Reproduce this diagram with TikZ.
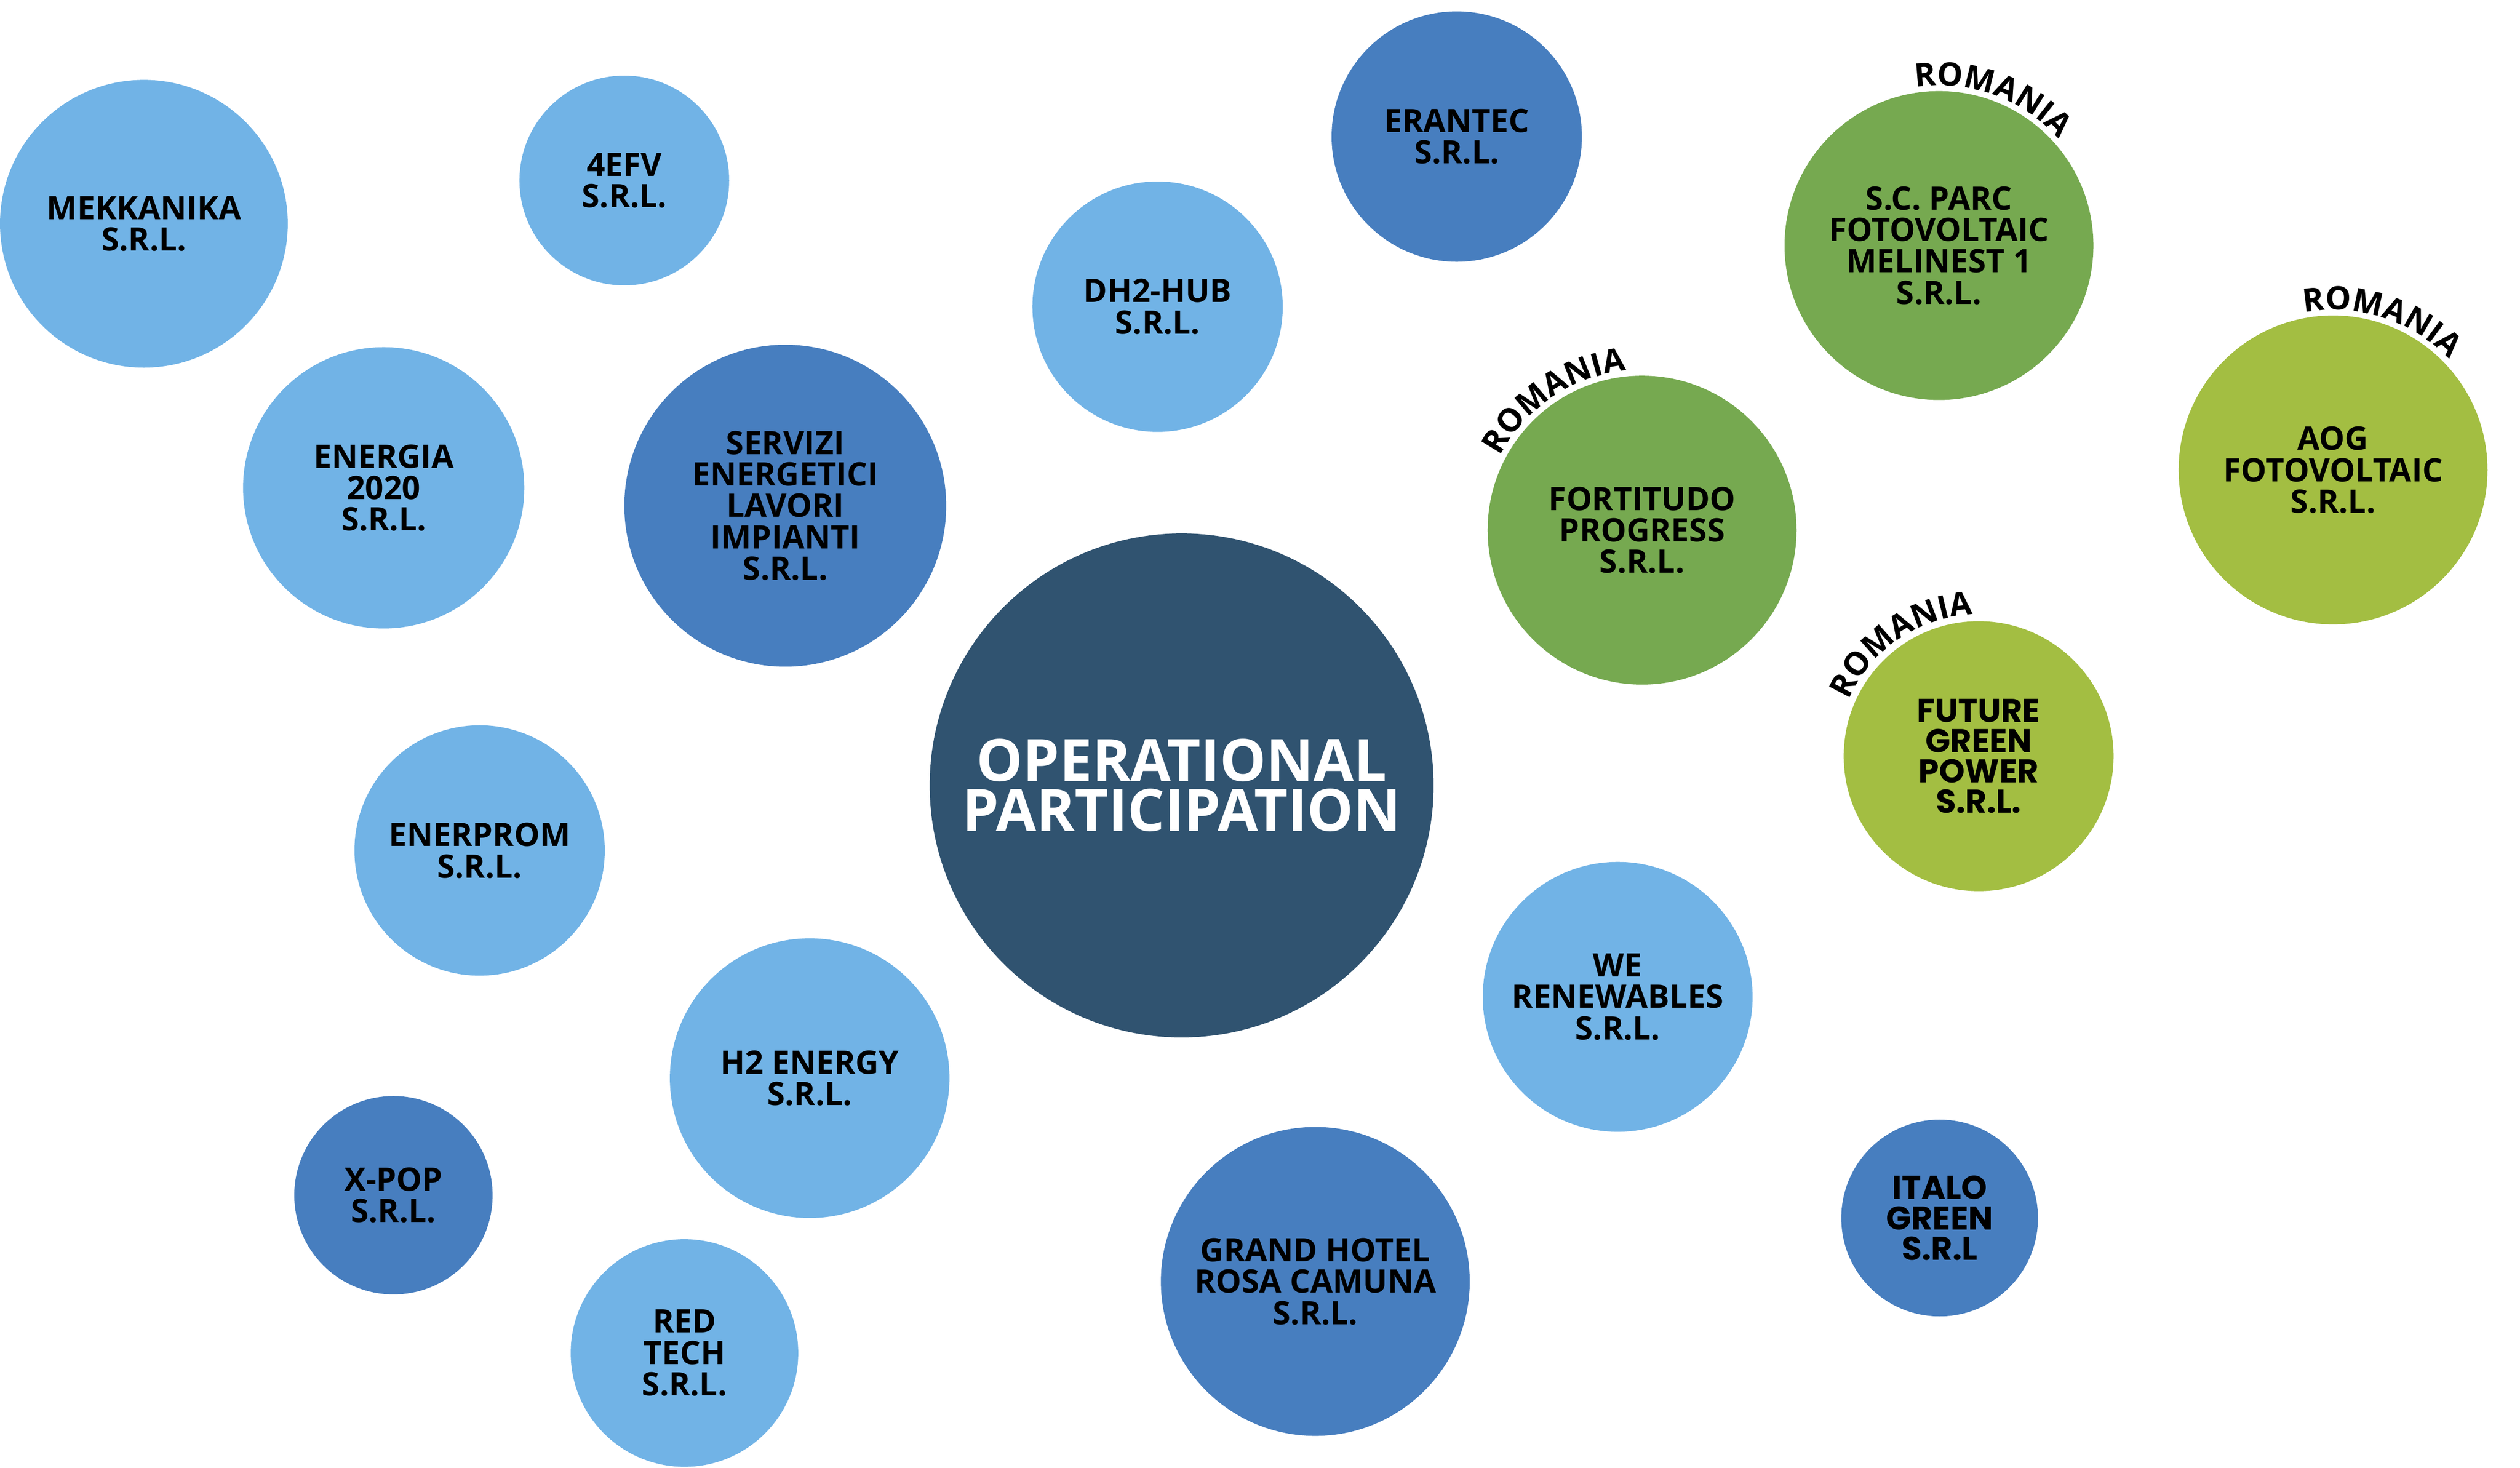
\documentclass[tikz,border=0pt]{standalone}
\usepackage{fontspec}
\setmainfont{Open Sans}
\newfontfamily\wideface{Poppins}
\definecolor{skyblue}{RGB}{113, 179, 230}
\definecolor{midblue}{RGB}{71, 126, 191}
\definecolor{deepnavy}{RGB}{48, 83, 112}
\definecolor{leafgreen}{RGB}{118, 169, 80}
\definecolor{limegreen}{RGB}{163, 190, 66}
\usetikzlibrary{positioning, decorations.text}

\tikzset{
  bubble/.style={circle, inner sep=0pt, align=center, text=black, font=\bfseries\fontsize{11.3}{11}\selectfont},
  widebubble/.style={bubble, font=\wideface\bfseries\fontsize{11.5}{10.6}\selectfont},
  romania/.style={decorate, decoration={text along path, text align=center,
    text={|\bfseries\fontsize{11.3}{11}\selectfont|ROMANIA}}}
}

\begin{document}
\begin{tikzpicture}[x=0.02cm, y=0.02cm]
  \useasboundingbox (0,0) rectangle (1550,902.6);

  % Centre
  \node[bubble, fill=deepnavy, minimum size=6.2cm, text=white, font=\bfseries\fontsize{20.4}{17.5}\selectfont] (operational) at (726.8,419.6) {OPERATIONAL\\PARTICIPATION};

  % Left side
  \node[bubble, fill=skyblue, minimum size=3.54cm] (mekkanika) at (88.5,765) {MEKKANIKA\\S.R.L.};
  \node[bubble, fill=skyblue, minimum size=2.58cm] (fourefv) at (384,791.6) {4EFV\\S.R.L.};
  \node[bubble, fill=skyblue, minimum size=3.46cm] (energia) at (236,602.6) {ENERGIA\\2020\\S.R.L.};
  \node[bubble, fill=midblue, minimum size=3.96cm] (servizi) at (483,591.6) {SERVIZI\\ENERGETICI\\LAVORI\\IMPIANTI\\S.R.L.};
  \node[bubble, fill=skyblue, minimum size=3.08cm] (enerprom) at (295,379.6) {ENERPROM\\S.R.L.};
  \node[bubble, fill=skyblue, minimum size=3.44cm] (htwo) at (498,239.6) {H2 ENERGY\\S.R.L.};
  \node[bubble, fill=midblue, minimum size=2.44cm] (xpop) at (242,167.6) {X-POP\\S.R.L.};
  \node[bubble, fill=skyblue, minimum size=2.8cm] (redtech) at (421,70.6) {RED\\TECH\\S.R.L.};

  % Top middle
  \node[bubble, fill=skyblue, minimum size=3.08cm] (dhhub) at (712,714) {DH2-HUB\\S.R.L.};
  \node[bubble, fill=midblue, minimum size=3.08cm] (erantec) at (896,818.6) {ERANTEC\\S.R.L.};

  % Right side
  \node[bubble, fill=leafgreen, minimum size=3.8cm] (parc) at (1192.6,751.6) {S.C. PARC\\FOTOVOLTAIC\\MELINEST 1\\S.R.L.};
  \node[bubble, fill=limegreen, minimum size=3.8cm] (aog) at (1435,613.6) {AOG\\FOTOVOLTAIC\\S.R.L.};
  \node[bubble, fill=leafgreen, minimum size=3.8cm] (fortitudo) at (1010,576.6) {FORTITUDO\\PROGRESS\\S.R.L.};
  \node[widebubble, fill=limegreen, minimum size=3.32cm] (future) at (1217,437.6) {FUTURE\\GREEN\\POWER\\S.R.L.};
  \node[bubble, fill=skyblue, minimum size=3.32cm] (renewables) at (995,289.6) {WE\\RENEWABLES\\S.R.L.};
  \node[widebubble, fill=midblue, minimum size=2.42cm] (italo) at (1193,153.6) {ITALO\\GREEN\\S.R.L};
  \node[bubble, fill=midblue, minimum size=3.8cm] (grandhotel) at (809,114.6) {GRAND HOTEL\\ROSA CAMUNA\\S.R.L.};

  % Country labels
  \path[romania] ([shift={(105:1.97cm)}]parc.center) arc[start angle=105, end angle=35, radius=1.97cm];
  \path[romania] ([shift={(107:1.97cm)}]aog.center) arc[start angle=107, end angle=37, radius=1.97cm];
  \path[romania] ([shift={(159:1.97cm)}]fortitudo.center) arc[start angle=159, end angle=89, radius=1.97cm];
  \path[romania] ([shift={(163:1.74cm)}]future.center) arc[start angle=163, end angle=86, radius=1.74cm];
\end{tikzpicture}
\end{document}
